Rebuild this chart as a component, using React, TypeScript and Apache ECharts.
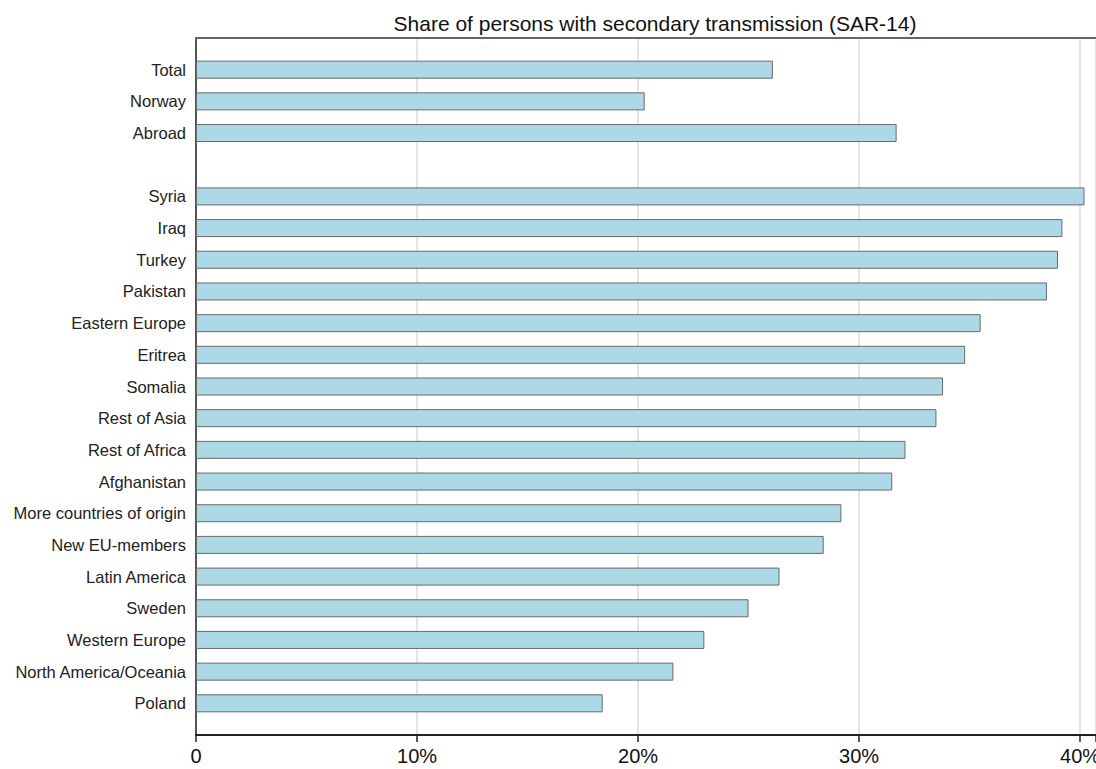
import React, { useEffect, useRef } from "react";
import * as echarts from "echarts";

const categories = [
  "", "Total", "Norway", "Abroad", " ", "Syria", "Iraq", "Turkey", "Pakistan",
  "Eastern Europe", "Eritrea", "Somalia", "Rest of Asia", "Rest of Africa",
  "Afghanistan", "More countries of origin", "New EU-members", "Latin America",
  "Sweden", "Western Europe", "North America/Oceania", "Poland", "  ",
];
const values: (number | string)[] = [
  "-", 26.1, 20.3, 31.7, "-", 40.2, 39.2, 39.0, 38.5, 35.5, 34.8, 33.8, 33.5,
  32.1, 31.5, 29.2, 28.4, 26.4, 25.0, 23.0, 21.6, 18.4, "-",
];
const xTicks = [0, 10, 20, 30, 40];
const title = "Share of persons with secondary transmission (SAR-14)";

export default function App() {
  const ref = useRef<HTMLDivElement>(null);
  useEffect(() => {
    const chart = echarts.init(ref.current!, null, { renderer: "svg" });
    const font = "'Liberation Sans', Arial, sans-serif";
    const xMax = 40.72;
    chart.setOption({
      animation: false,
      backgroundColor: "#fff",
      title: {
        text: title,
        left: 650,
        textAlign: "center",
        top: 8,
        textStyle: { fontFamily: font, fontSize: 21, fontWeight: "normal", color: "#111" },
      },
      grid: {
        left: 196,
        right: 0,
        top: 38,
        bottom: 34,
        containLabel: false,
        outerBoundsMode: "none",
      },
      xAxis: [
        {
          type: "value",
          min: 0,
          max: xMax,
          interval: 10,
          axisLine: { show: true, lineStyle: { color: "#222", width: 2 } },
          axisTick: { show: true, length: 7, lineStyle: { color: "#222", width: 1.5 } },
          axisLabel: {
            fontFamily: font,
            fontSize: 20,
            color: "#111",
            margin: 11,
            hideOverlap: false,
            formatter: (v: number) => {
              if (!xTicks.includes(Math.round(v * 100) / 100)) return "";
              return v === 0 ? "0" : v + "%";
            },
          },
          splitLine: { show: true, lineStyle: { color: "#dcdcdc", width: 1.5 } },
        },
        {
          type: "value",
          position: "top",
          min: 0,
          max: xMax,
          interval: 10,
          axisLine: { show: true, lineStyle: { color: "#666", width: 2 } },
          axisTick: { show: false },
          axisLabel: { show: false },
          splitLine: { show: false },
        },
      ],
      yAxis: {
        type: "category",
        data: categories,
        inverse: true,
        boundaryGap: false,
        axisLine: { show: true, lineStyle: { color: "#555", width: 2 } },
        axisTick: { show: false },
        axisLabel: { fontFamily: font, fontSize: 16.5, color: "#222", margin: 10, interval: 0 },
        splitLine: { show: false },
      },
      series: [
        {
          type: "bar",
          data: values,
          barWidth: 18,
          xAxisIndex: 0,
          itemStyle: { color: "#add8e6", borderColor: "#6a6a6a", borderWidth: 1 },
        },
      ],
    });
    return () => chart.dispose();
  }, []);
  return (
    <div
      ref={ref}
      style={{ position: "fixed", left: 0, top: 0, width: 1096, height: 769 }}
    />
  );
}
